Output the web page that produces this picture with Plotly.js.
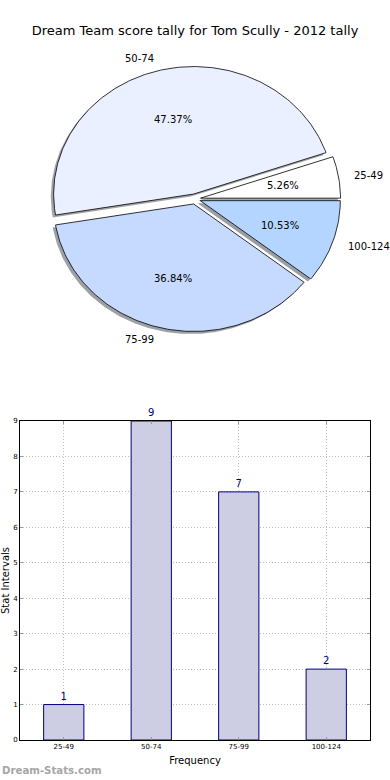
<!DOCTYPE html>
<html>
<head>
<meta charset="utf-8">
<script src="https://cdn.plot.ly/plotly-3.0.1.min.js"></script>
<style>html,body{margin:0;padding:0;background:#fff;}#chart{width:390px;height:780px;}</style>
</head>
<body>
<div id="chart"></div>
<script>
// ---- data ----
const chartTitle = 'Dream Team score tally for Tom Scully - 2012 tally';
const categories = ['25-49', '50-74', '75-99', '100-124'];
const counts = [1, 9, 7, 2];
const sliceColors = ['#ffffff', '#eaf0ff', '#c6d9ff', '#b3d5ff'];
const explode = [0.04, 0.04, 0.04, 0.04];
const barXTitle = 'Frequency';
const barYTitle = 'Stat Intervals';
const watermark = 'Dream-Stats.com';

// ---- build pie (elliptical, matplotlib-like) from data ----
const total = counts.reduce((a, b) => a + b, 0);
const shadows = [], wedges = [], annotations = [];
function shadowColor(hex) {
  const r = parseInt(hex.slice(1, 3), 16), g = parseInt(hex.slice(3, 5), 16), b = parseInt(hex.slice(5, 7), 16);
  return 'rgba(' + Math.round(r * 0.3) + ',' + Math.round(g * 0.3) + ',' + Math.round(b * 0.3) + ',0.5)';
}
let start = 0;
counts.forEach((v, i) => {
  const a1 = start, a2 = start + 360 * v / total;
  start = a2;
  const mid = (a1 + a2) / 2 * Math.PI / 180;
  const cx = explode[i] * Math.cos(mid), cy = explode[i] * Math.sin(mid);
  const n = Math.max(4, Math.ceil(a2 - a1));
  const xs = [cx], ys = [cy];
  for (let k = 0; k <= n; k++) {
    const t = (a1 + (a2 - a1) * k / n) * Math.PI / 180;
    xs.push(cx + Math.cos(t));
    ys.push(cy + Math.sin(t));
  }
  xs.push(cx); ys.push(cy);
  shadows.push({
    type: 'scatter', mode: 'lines', x: xs.map(x => x - 0.02), y: ys.map(y => y - 0.02),
    fill: 'toself', fillcolor: shadowColor(sliceColors[i]), line: {width: 0},
    xaxis: 'x', yaxis: 'y', hoverinfo: 'skip', showlegend: false
  });
  wedges.push({
    type: 'scatter', mode: 'lines', x: xs, y: ys, name: categories[i],
    fill: 'toself', fillcolor: sliceColors[i], line: {color: '#000', width: 0.8},
    xaxis: 'x', yaxis: 'y', hoverinfo: 'name', showlegend: false
  });
  const lx = cx + 1.1 * Math.cos(mid), ly = cy + 1.1 * Math.sin(mid);
  annotations.push({
    x: lx, y: ly, xref: 'x', yref: 'y', text: categories[i], showarrow: false,
    xanchor: lx > 0 ? 'left' : 'right', yanchor: 'middle',
    font: {family: 'DejaVu Sans', size: 10, color: '#000'}
  });
  const px = cx + 0.6 * Math.cos(mid), py = cy + 0.6 * Math.sin(mid);
  annotations.push({
    x: px, y: py, xref: 'x', yref: 'y', text: (100 * v / total).toFixed(2) + '%', showarrow: false,
    xanchor: 'center', yanchor: 'middle',
    font: {family: 'DejaVu Sans', size: 10, color: '#000'}
  });
});

annotations.push({
  x: -20 / 350, y: -30 / 740, xref: 'paper', yref: 'paper', text: '<b>' + watermark + '</b>',
  showarrow: false, xanchor: 'left', yanchor: 'middle',
  font: {family: 'DejaVu Sans', size: 10.2, color: '#a6a6a6'}
});

const bars = {
  type: 'bar', x: categories, y: counts, width: 0.46,
  marker: {color: '#cdcde3', line: {color: '#000080', width: 1}},
  text: counts.map(String), textposition: 'outside', cliponaxis: false,
  textfont: {family: 'DejaVu Sans', size: 10, color: '#000080'},
  xaxis: 'x2', yaxis: 'y2', hoverinfo: 'x+y', showlegend: false
};

const layout = {
  width: 390, height: 780,
  margin: {l: 20, r: 20, t: 0, b: 40, pad: 0},
  paper_bgcolor: '#ffffff', plot_bgcolor: 'rgba(0,0,0,0)',
  font: {family: 'DejaVu Sans', color: '#000'},
  showlegend: false,
  title: {
    text: chartTitle, x: 0.5, xref: 'paper', xanchor: 'center',
    y: 1 - 30 / 780, yref: 'container', yanchor: 'middle',
    font: {family: 'DejaVu Sans', size: 13, color: '#000'}
  },
  xaxis: {domain: [0, 1], range: [-175 / 140, 175 / 140], visible: false, fixedrange: true},
  yaxis: {domain: [350 / 740, 1], range: [-191 / 127.5, 199 / 127.5], visible: false, fixedrange: true, anchor: 'x'},
  xaxis2: {
    domain: [0, 1], anchor: 'y2', type: 'category', range: [-0.5, 3.5],
    showline: true, linecolor: '#000', linewidth: 1, mirror: 'ticks',
    ticks: 'inside', ticklen: 3, tickcolor: '#999',
    showgrid: true, gridcolor: '#bdbdbd', griddash: '1px,2px', gridwidth: 1,
    tickfont: {family: 'DejaVu Sans', size: 7, color: '#000'},
    title: {text: barXTitle, font: {family: 'DejaVu Sans', size: 10, color: '#000'}, standoff: 6},
    automargin: false, fixedrange: true
  },
  yaxis2: {
    domain: [0, 319 / 740], anchor: 'x2', range: [0, 9], dtick: 1,
    showline: true, linecolor: '#000', linewidth: 1, mirror: 'ticks',
    ticks: 'inside', ticklen: 3, tickcolor: '#999',
    showgrid: true, gridcolor: '#bdbdbd', griddash: '1px,2px', gridwidth: 1, zeroline: false,
    tickfont: {family: 'DejaVu Sans', size: 7, color: '#000'},
    title: {text: barYTitle, font: {family: 'DejaVu Sans', size: 10, color: '#000'}, standoff: 2},
    automargin: false, fixedrange: true
  },
  annotations: annotations,
  bargap: 0.2
};

Plotly.newPlot('chart', shadows.concat(wedges, [bars]), layout, {staticPlot: true, displayModeBar: false});
</script>
</body>
</html>
